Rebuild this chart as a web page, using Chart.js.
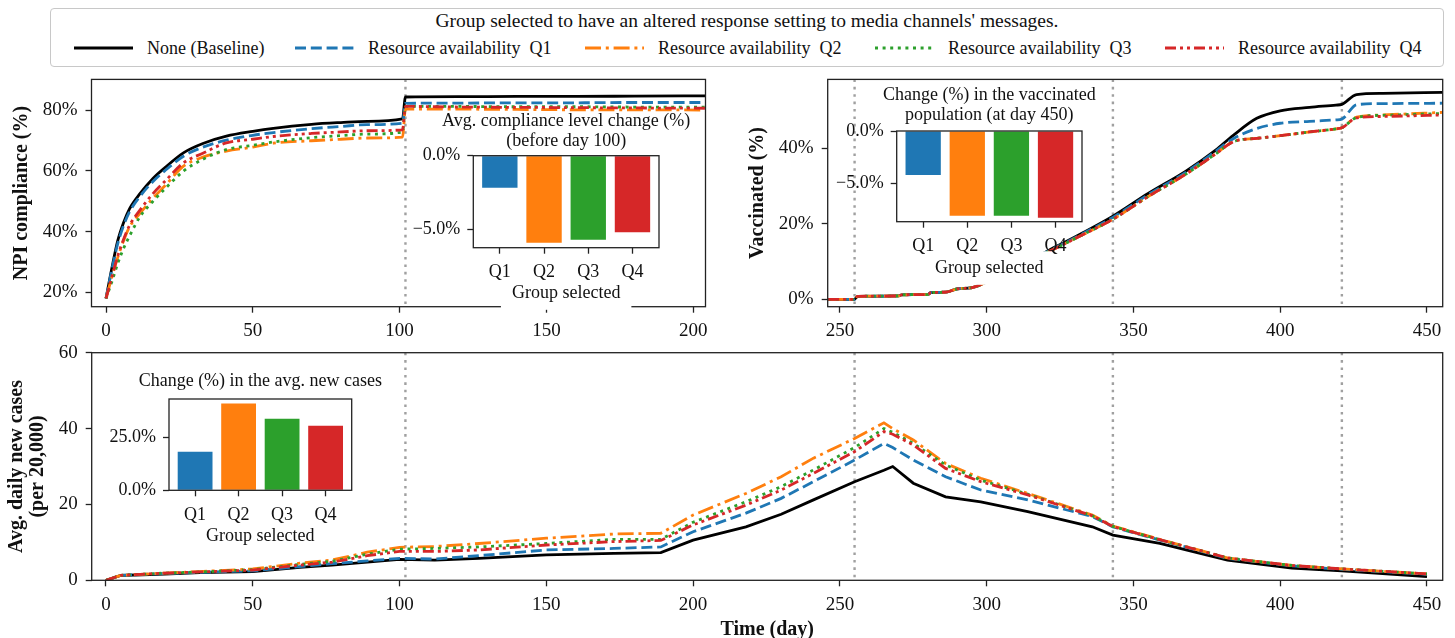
<!DOCTYPE html>
<html>
<head>
<meta charset="utf-8">
<title>Altered response setting to media channels</title>
<script src="https://cdn.jsdelivr.net/npm/chart.js@4"></script>
<style>
  html, body { margin: 0; padding: 0; background: #fff; }
  body { position: relative; width: 1455px; height: 638px; overflow: hidden;
         font-family: 'Liberation Serif', 'Times New Roman', serif; color: #111; }
  canvas { position: absolute; }
  #legend { position: absolute; left: 50px; top: 8px; width: 1394px; height: 59px;
            border: 1px solid #c8c8c8; border-radius: 4px; box-sizing: border-box; }
  #legend-title { position: absolute; left: 0; right: 0; top: 1px; text-align: center;
                  font-size: 19.5px; line-height: 22px; }
  .item { position: absolute; top: 28px; height: 22px; font-size: 18px; line-height: 22px; white-space: pre; }
  .item svg { position: absolute; left: 0; top: 0; }
  .item span { position: absolute; left: 73px; top: 0; }
</style>
</head>
<body>
<div id="legend"><div id="legend-title">Group selected to have an altered response setting to media channels' messages.</div></div>
<canvas id="npi"></canvas>
<canvas id="vac"></canvas>
<canvas id="cases"></canvas>
<canvas id="npi-inset"></canvas>
<canvas id="vac-inset"></canvas>
<canvas id="cases-inset"></canvas>
<script>
// ---- data ----
var seriesNames = ['None (Baseline)', 'Resource availability  Q1', 'Resource availability  Q2',
                   'Resource availability  Q3', 'Resource availability  Q4'];
var groups = ['Q1', 'Q2', 'Q3', 'Q4'];
var eventDays = [102, 255, 343, 421];

// NPI compliance (%), days 0-205
var npiDays   = [0, 2, 4, 6, 8, 11.5, 16, 20, 26.5, 33, 41, 50, 57, 70, 80, 89, 101, 102, 120, 140, 160, 180, 205];
var npiBase   = [18, 28, 37, 43, 47.5, 52.4, 57.5, 61, 66, 69, 71.4, 73, 74, 75.3, 75.9, 76.3, 77.1, 84.3, 84.4, 84.5, 84.5, 84.6, 84.7];
var npiQ1     = [18, 27.5, 36, 42, 46.5, 51.5, 56.5, 60, 64.9, 67.8, 70.1, 71.7, 72.6, 73.9, 74.6, 75.2, 75.7, 82.2, 82.3, 82.4, 82.4, 82.5, 82.5];
var npiQ2     = [18, 25, 31.5, 37, 41.5, 45.9, 51, 55, 61.6, 64.5, 66.5, 67.8, 69.1, 69.9, 70.4, 70.8, 71.1, 80.3, 80.3, 80.2, 80.1, 80.1, 80.0];
var npiQ3     = [18, 23.5, 29.5, 34.5, 38.5, 44.8, 50, 54, 60.0, 63.8, 67.0, 68.4, 69.5, 70.9, 71.6, 72.1, 72.8, 81.2, 81.2, 81.1, 81.1, 81.0, 81.0];
var npiQ4     = [18, 25, 32, 37.5, 42, 47, 52.5, 56.5, 62.7, 65.8, 69.2, 70.4, 71.3, 72.3, 72.8, 73.2, 73.5, 81.2, 81.0, 80.9, 80.8, 80.7, 80.6];

// Vaccinated (%), days 246-456
var vacDays   = [246, 255, 256, 270, 271, 280, 281, 286, 290, 295, 300, 310, 320, 332, 343, 355, 368, 378, 384, 392, 400, 410, 419, 421, 426, 435, 456];
var vacBase   = [0, 0, 0.8, 0.9, 1.2, 1.3, 1.8, 1.9, 2.8, 3.1, 4.6, 8.5, 12.5, 17.3, 22, 28, 34, 39.5, 43.4, 47.9, 49.9, 50.8, 51.4, 51.6, 54.2, 54.5, 54.8];
var vacQ1     = [0, 0, 0.8, 0.9, 1.2, 1.3, 1.8, 1.9, 2.8, 3.1, 4.6, 8.5, 12.4, 17.1, 21.7, 27.7, 33.7, 39.2, 42.5, 45.2, 46.6, 47.1, 47.5, 47.7, 51.5, 51.8, 51.9];
var vacQ2     = [0, 0, 0.8, 0.9, 1.2, 1.3, 1.8, 1.9, 2.8, 3.1, 4.6, 8.4, 12.2, 16.8, 21.2, 27.2, 33.2, 38.5, 41.7, 42.6, 43.3, 44.3, 45.1, 45.4, 48.2, 48.8, 49.5];
var vacQ3     = [0, 0, 0.8, 0.9, 1.2, 1.3, 1.8, 1.9, 2.8, 3.1, 4.6, 8.4, 12.2, 16.8, 21.2, 27.2, 33.2, 38.5, 41.7, 42.6, 43.3, 44.3, 45.1, 45.4, 48.1, 48.7, 49.2];
var vacQ4     = [0, 0, 0.8, 0.9, 1.2, 1.3, 1.8, 1.9, 2.8, 3.1, 4.6, 8.4, 12.2, 16.8, 21.2, 27.2, 33.2, 38.5, 41.7, 42.6, 43.3, 44.3, 45.1, 45.4, 48.0, 48.4, 48.8];

// Avg. daily new cases (per 20,000), days 0-450
var casesDays = [0, 5, 10, 20, 32, 50, 66, 77, 89, 100, 112, 127, 150, 173, 189, 200, 218, 230, 241, 255, 265, 268, 275, 286, 298, 314, 336, 343, 359, 382, 404, 421, 450];
var casesBase = [0, 1.3, 1.4, 1.65, 2.0, 2.3, 3.4, 4.0, 4.8, 5.5, 5.3, 5.8, 6.7, 7.1, 7.3, 10.6, 14.1, 17.4, 21.2, 26.0, 29.0, 30.0, 25.6, 22.0, 20.7, 18.1, 14.1, 11.9, 9.75, 5.35, 3.2, 2.5, 0.95];
var casesQ1   = [0, 1.3, 1.5, 1.8, 2.1, 2.5, 3.6, 4.4, 5.1, 5.8, 5.6, 6.5, 8.0, 8.4, 8.8, 12.8, 17.7, 21.6, 26.0, 31.7, 36.1, 35.0, 31.7, 27.3, 23.8, 21.2, 16.8, 14.1, 10.6, 5.8, 3.8, 2.9, 1.6];
var casesQ2   = [0, 1.3, 1.5, 1.9, 2.3, 3.0, 4.5, 5.35, 7.4, 8.7, 8.9, 9.7, 11.1, 12.2, 12.4, 17.2, 22.9, 27.3, 32.2, 37.4, 41.5, 40.0, 37.0, 30.8, 26.9, 22.9, 17.2, 14.3, 10.8, 5.9, 3.9, 3.0, 1.7];
var casesQ3   = [0, 1.3, 1.5, 1.9, 2.2, 2.8, 4.2, 5.0, 6.9, 8.2, 8.4, 8.8, 9.7, 10.8, 10.8, 15.3, 20.7, 24.7, 29.1, 35.0, 40.0, 39.0, 36.1, 30.4, 26.4, 22.7, 17.0, 14.2, 10.7, 5.9, 3.9, 3.0, 1.7];
var casesQ4   = [0, 1.3, 1.5, 1.9, 2.2, 2.7, 4.0, 4.8, 6.5, 7.6, 7.6, 8.0, 9.3, 10.2, 10.5, 14.6, 19.8, 23.8, 28.2, 33.9, 39.2, 38.5, 35.7, 29.5, 26.0, 22.5, 17.0, 14.2, 10.7, 5.9, 3.9, 3.0, 1.7];

// inset bars (%)
var complianceChange = [-2.17, -5.91, -5.71, -5.2];
var vaccinatedChange = [-4.21, -8.1, -8.1, -8.29];
var casesChange      = [18.2, 41.0, 33.8, 30.5];

// tick labels
var npiXTicks   = [0, 50, 100, 150, 200];
var npiYTicks   = [20, 40, 60, 80];
var vacXTicks   = [250, 300, 350, 400, 450];
var vacYTicks   = [0, 20, 40];
var casesXTicks = [0, 50, 100, 150, 200, 250, 300, 350, 400, 450];
var casesYTicks = [0, 20, 40, 60];

// ---- styling ----
var FONT = "'Liberation Serif', 'Times New Roman', serif";
Chart.defaults.font.family = FONT;
Chart.defaults.color = '#111';
Chart.defaults.animation = false;
Chart.defaults.responsive = false;
Chart.defaults.plugins.legend.display = false;
Chart.defaults.plugins.tooltip.enabled = false;

var lineColors = ['#000000', '#1f77b4', '#ff7f0e', '#2ca02c', '#d62728'];
var lineDashes = [[], [11, 4.8], [16, 4.8, 3, 4.8], [3, 4.6], [11, 4, 3, 4, 3, 4]];
var barColors = ['#1f77b4', '#ff7f0e', '#2ca02c', '#d62728'];
var titleFont = {size: 20, weight: 'bold', lineHeight: 1.05};

// legend (html)
var legendLeft = [23, 244, 534, 824, 1114];
seriesNames.forEach(function (name, k) {
  var d = document.createElement('div');
  d.className = 'item';
  d.style.left = legendLeft[k] + 'px';
  d.innerHTML = '<svg width="60" height="22"><line x1="0" y1="11" x2="59" y2="11" stroke="' + lineColors[k] +
    '" stroke-width="3" stroke-dasharray="' + (lineDashes[k].join(' ') || 'none') + '"/></svg><span></span>';
  d.querySelector('span').textContent = name;
  document.getElementById('legend').appendChild(d);
});

// full box around each plot area
var framePlugin = {
  id: 'frame',
  afterDatasetsDraw: function (chart) {
    var a = chart.chartArea, ctx = chart.ctx;
    ctx.save();
    ctx.strokeStyle = '#222';
    ctx.lineWidth = 1.3;
    ctx.strokeRect(a.left, a.top, a.right - a.left, a.bottom - a.top);
    ctx.restore();
  }
};

// dotted vertical markers
var eventLinePlugin = {
  id: 'eventLines',
  beforeDatasetsDraw: function (chart, args, opts) {
    var a = chart.chartArea, xs = chart.scales.x, ctx = chart.ctx;
    ctx.save();
    ctx.strokeStyle = '#a0a0a0';
    ctx.lineWidth = 2.4;
    ctx.setLineDash([2.6, 4.8]);
    opts.days.forEach(function (d) {
      if (d < xs.min || d > xs.max) return;
      var x = xs.getPixelForValue(d);
      ctx.beginPath(); ctx.moveTo(x, a.top); ctx.lineTo(x, a.bottom); ctx.stroke();
    });
    ctx.restore();
  }
};

// white background for insets + box behind the x label
var insetBackPlugin = {
  id: 'insetBack',
  beforeDraw: function (chart) {
    var a = chart.chartArea, ctx = chart.ctx, xs = chart.scales.x;
    ctx.save();
    ctx.fillStyle = '#fff';
    ctx.fillRect(a.left, a.top, a.right - a.left, a.bottom - a.top);
    ctx.font = '18px ' + FONT;
    var w = ctx.measureText(xs.options.title.text).width;
    var cx = (a.left + a.right) / 2, cy = xs.bottom - 9.9;
    ctx.fillRect(cx - w / 2 - 11, cy - 17, w + 22, 33.5);
    ctx.restore();
  }
};

var captionPlugin = {
  id: 'caption',
  afterDraw: function (chart, args, opts) {
    var a = chart.chartArea, ctx = chart.ctx;
    ctx.save();
    ctx.font = '18px ' + FONT;
    ctx.fillStyle = '#111';
    ctx.textAlign = 'center';
    ctx.textBaseline = 'middle';
    opts.lines.forEach(function (t, i) {
      ctx.fillText(t, (a.left + a.right) / 2, a.top + opts.offsets[i]);
    });
    ctx.restore();
  }
};

function place(id, box, area, xH) {
  var cv = document.getElementById(id);
  cv.width = box.w; cv.height = box.h;
  cv.style.left = box.x + 'px'; cv.style.top = box.y + 'px';
  return {
    ctx: cv.getContext('2d'),
    padding: {left: 0, top: area.t - box.y, right: box.x + box.w - area.r, bottom: box.y + box.h - area.b - xH},
    yW: area.l - box.x,
    xH: xH
  };
}

function axis(min, max, ticks, fmt, size, pad, fixed, title) {
  return {
    type: 'linear', min: min, max: max, offset: false,
    afterBuildTicks: function (s) { s.ticks = ticks.map(function (v) { return {value: v}; }); },
    afterFit: function (s) { if (s.isHorizontal()) s.height = fixed; else s.width = fixed; },
    ticks: {font: {size: size}, color: '#111', padding: pad, autoSkip: false, maxRotation: 0,
            callback: function (v, i) { return fmt(v, i); }},
    grid: {drawOnChartArea: false, tickLength: 6, tickWidth: 1.3, tickColor: '#222', offset: false},
    border: {display: false},
    title: title || {display: false}
  };
}

function plain(v) { return String(v); }
function pct(v) { return v + '%'; }
function pct1(v) { return (v < 0 ? '\u2212' : '') + Math.abs(v).toFixed(1) + '%'; }

function lineChart(id, box, area, xH, days, rows, smooth, xr, xTicks, yr, yTicks, yFmt, yTitle, xTitle) {
  var p = place(id, box, area, xH);
  return new Chart(p.ctx, {
    type: 'line',
    data: {
      datasets: rows.map(function (vals, k) {
        return {
          label: seriesNames[k],
          data: days.map(function (d, i) { return {x: d, y: vals[i]}; }),
          borderColor: lineColors[k], borderDash: lineDashes[k], borderWidth: 2.8,
          pointRadius: 0, tension: 0, cubicInterpolationMode: smooth ? 'monotone' : 'default',
          fill: false, order: rows.length - k
        };
      })
    },
    options: {
      devicePixelRatio: 1,
      layout: {padding: p.padding, autoPadding: false},
      scales: {
        x: axis(xr[0], xr[1], xTicks, plain, 19, 7.4, p.xH, xTitle),
        y: axis(yr[0], yr[1], yTicks, yFmt, 19, 8, p.yW, yTitle)
      },
      plugins: {eventLines: {days: eventDays}}
    },
    plugins: [framePlugin, eventLinePlugin]
  });
}

function barChart(id, box, area, xH, values, yr, yTicks, lines, offsets) {
  var p = place(id, box, area, xH);
  return new Chart(p.ctx, {
    type: 'bar',
    data: {
      datasets: [{
        data: values.map(function (v, i) { return {x: i, y: v}; }),
        backgroundColor: barColors, borderWidth: 0,
        barPercentage: 0.8, categoryPercentage: 1
      }]
    },
    options: {
      devicePixelRatio: 1,
      layout: {padding: p.padding, autoPadding: false},
      scales: {
        x: axis(-0.6, 3.6, [0, 1, 2, 3], function (v, i) { return groups[i]; }, 18, 7.7, p.xH,
                {display: true, text: 'Group selected', font: {size: 18, lineHeight: 1.1}, color: '#111', padding: 0}),
        y: axis(yr[0], yr[1], yTicks, pct1, 18, 7, p.yW)
      },
      plugins: {caption: {lines: lines, offsets: offsets}}
    },
    plugins: [insetBackPlugin, framePlugin, captionPlugin]
  });
}

// ---- main panels ----
lineChart('npi', {x: 0, y: 60, w: 720, h: 285}, {l: 91.5, t: 77.3, r: 705.5, b: 306.7}, 36,
  npiDays, [npiBase, npiQ1, npiQ2, npiQ3, npiQ4], true,
  [-4.94, 204.2], npiXTicks, [15.27, 90.1], npiYTicks, pct,
  {display: true, text: 'NPI compliance (%)', font: titleFont, color: '#111', padding: {top: 11.5}});

lineChart('vac', {x: 720, y: 60, w: 735, h: 285}, {l: 827.7, t: 77.3, r: 1442.7, b: 306.7}, 36,
  vacDays, [vacBase, vacQ1, vacQ2, vacQ3, vacQ4], true,
  [245.84, 455.35], vacXTicks, [-1.94, 58.2], vacYTicks, pct,
  {display: true, text: 'Vaccinated (%)', font: titleFont, color: '#111', padding: {top: 27.5}});

lineChart('cases', {x: 0, y: 330, w: 1455, h: 315}, {l: 91.7, t: 352.7, r: 1442.7, b: 580.3}, 62,
  casesDays, [casesBase, casesQ1, casesQ2, casesQ3, casesQ4], false,
  [-4.87, 455.35], casesXTicks, [0, 60], casesYTicks, plain,
  {display: true, text: ['Avg. daily new cases', '(per 20,000)'], font: titleFont, color: '#111', padding: {top: 6.2}},
  {display: true, text: 'Time (day)', font: titleFont, color: '#111', padding: {top: 0, bottom: 1.8}});

// ---- insets ----
barChart('npi-inset', {x: 400, y: 105, w: 300, h: 215}, {l: 473.3, t: 155.7, r: 659, b: 247.7}, 55.5,
  complianceChange, [-6.25, 0], [-5, 0],
  ['Avg. compliance level change (%)', '(before day 100)'], [-34, -14.5]);

barChart('vac-inset', {x: 820, y: 80, w: 280, h: 220}, {l: 896.7, t: 131, r: 1082, b: 221.7}, 56.5,
  vaccinatedChange, [-8.67, 0], [-5, 0],
  ['Change (%) in the vaccinated', 'population (at day 450)'], [-36, -16]);

barChart('cases-inset', {x: 90, y: 355, w: 330, h: 210}, {l: 169, t: 399, r: 351.7, b: 490.3}, 56.3,
  casesChange, [0, 43.07], [0, 25],
  ['Change (%) in the avg. new cases'], [-17.3]);
</script>
</body>
</html>
